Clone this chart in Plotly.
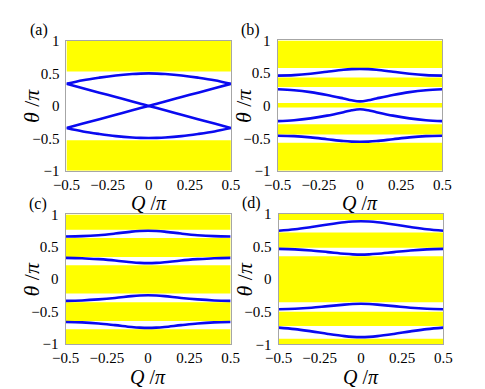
import plotly.graph_objects as go

# ---------------- data ----------------
Q = [-0.5, -0.4, -0.3, -0.2, -0.1, -0.05, 0, 0.05, 0.1, 0.2, 0.3, 0.4, 0.5]

# panel (a)
a1 = [0.34, 0.395, 0.435, 0.468, 0.490, 0.497, 0.50, 0.497, 0.490, 0.468, 0.435, 0.395, 0.34]
a2 = [0.34, 0.272, 0.204, 0.136, 0.068, 0.034, 0.0, -0.034, -0.068, -0.136, -0.204, -0.272, -0.34]
a3 = [-0.34, -0.272, -0.204, -0.136, -0.068, -0.034, 0.0, 0.034, 0.068, 0.136, 0.204, 0.272, 0.34]
a4 = [-0.34, -0.393, -0.432, -0.465, -0.487, -0.493, -0.495, -0.493, -0.487, -0.465, -0.432, -0.393, -0.34]
a_lo = [0.53, -1.0]
a_hi = [1.0, -0.53]

# panel (b)
b1 = [0.461, 0.468, 0.488, 0.52, 0.55, 0.56, 0.563, 0.56, 0.55, 0.52, 0.488, 0.468, 0.461]
b2 = [0.252, 0.237, 0.207, 0.163, 0.11, 0.082, 0.066, 0.082, 0.11, 0.163, 0.207, 0.237, 0.252]
b3 = [-0.238, -0.224, -0.195, -0.153, -0.1, -0.071, -0.056, -0.071, -0.1, -0.153, -0.195, -0.224, -0.238]
b4 = [-0.461, -0.468, -0.487, -0.515, -0.543, -0.551, -0.553, -0.551, -0.543, -0.515, -0.487, -0.468, -0.461]
b_lo = [0.578, 0.286, -0.03, -0.442, -1.0]
b_hi = [1.0, 0.432, 0.04, -0.286, -0.568]

# panel (c)
c1 = [0.66, 0.665, 0.68, 0.705, 0.735, 0.744, 0.748, 0.744, 0.735, 0.705, 0.68, 0.665, 0.66]
c2 = [0.33, 0.325, 0.31, 0.29, 0.262, 0.252, 0.248, 0.252, 0.262, 0.29, 0.31, 0.325, 0.33]
c3 = [-0.335, -0.328, -0.312, -0.29, -0.262, -0.252, -0.248, -0.252, -0.262, -0.29, -0.312, -0.328, -0.335]
c4 = [-0.66, -0.667, -0.684, -0.71, -0.738, -0.748, -0.752, -0.748, -0.738, -0.71, -0.684, -0.667, -0.66]
c_lo = [0.765, 0.345, -0.222, -0.646, -1.0]
c_hi = [1.0, 0.636, 0.214, -0.354, -0.772]

# panel (d)
d1 = [0.742, 0.765, 0.80, 0.839, 0.873, 0.884, 0.888, 0.884, 0.873, 0.839, 0.80, 0.765, 0.742]
d2 = [0.465, 0.458, 0.44, 0.415, 0.39, 0.381, 0.377, 0.381, 0.39, 0.415, 0.44, 0.458, 0.465]
d3 = [-0.46, -0.453, -0.437, -0.413, -0.39, -0.381, -0.377, -0.381, -0.39, -0.413, -0.437, -0.453, -0.46]
d4 = [-0.742, -0.765, -0.80, -0.839, -0.873, -0.884, -0.888, -0.884, -0.873, -0.839, -0.80, -0.765, -0.742]
d_lo = [0.907, 0.484, -0.353, -0.718, -1.0]
d_hi = [1.0, 0.718, 0.353, -0.499, -0.912]

x_tickvals = [-0.5, -0.25, 0, 0.25, 0.5]
x_ticktext = ["\u22120.5", "\u22120.25", "0", "0.25", "0.5"]
y_tickvals = [-1, -0.5, 0, 0.5, 1]
y_ticktext = ["\u22121", "\u22120.5", "0", "0.5", "1"]
panel_labels = ["(a)", "(b)", "(c)", "(d)"]

# ---------------- layout geometry ----------------
W, H = 485, 389
panels = [
    dict(curves=[a1, a2, a3, a4], lo=a_lo, hi=a_hi, box=(46.7, 219.3, 26, 161.5)),
    dict(curves=[b1, b2, b3, b4], lo=b_lo, hi=b_hi, box=(268.3, 441.3, 25.5, 161.5)),
    dict(curves=[c1, c2, c3, c4], lo=c_lo, hi=c_hi, box=(45.7, 219, 207, 342)),
    dict(curves=[d1, d2, d3, d4], lo=d_lo, hi=d_hi, box=(269.3, 442.3, 206.5, 342.5)),
]

BLUE = "#0a0af0"
YELLOW = "#ffff00"
FRAME = "#a6a6a6"
SERIF = "Liberation Serif, Times New Roman, serif"

fig = go.Figure()
layout = dict(
    width=W, height=H, margin=dict(l=0, r=0, t=0, b=0),
    paper_bgcolor="white", plot_bgcolor="white", showlegend=False,
    font=dict(family=SERIF, size=15, color="black"),
)
shapes = []
annotations = []

for i, p in enumerate(panels):
    n = "" if i == 0 else str(i + 1)
    xa, ya = "x" + n, "y" + n
    x0, x1, y0, y1 = p["box"]
    layout["xaxis" + n] = dict(
        domain=[x0 / W, x1 / W], range=[-0.5, 0.5], anchor=ya,
        showgrid=False, zeroline=False, showline=True, mirror=True,
        linecolor=FRAME, linewidth=1, ticks="", tickvals=x_tickvals,
        ticktext=x_ticktext, tickfont=dict(family=SERIF, size=15),
    )
    layout["yaxis" + n] = dict(
        domain=[1 - y1 / H, 1 - y0 / H], range=[-1, 1], anchor=xa,
        showgrid=False, zeroline=False, showline=True, mirror=True,
        linecolor=FRAME, linewidth=1, ticks="", tickvals=y_tickvals,
        ticktext=y_ticktext, tickfont=dict(family=SERIF, size=15),
        ticklabelstandoff=3,
    )
    for lo, hi in zip(p["lo"], p["hi"]):
        shapes.append(dict(type="rect", xref=xa, yref=ya, x0=-0.5, x1=0.5,
                           y0=lo, y1=hi, fillcolor=YELLOW, line=dict(width=0),
                           layer="below"))
    for c in p["curves"]:
        fig.add_trace(go.Scatter(x=Q, y=c, mode="lines", xaxis=xa, yaxis=ya,
                                 line=dict(color=BLUE, width=2.6, shape="spline",
                                           smoothing=1.0)))
    cx = (x0 + x1) / 2
    cy = (y0 + y1) / 2
    # x-axis title
    annotations.append(dict(xref="paper", yref="paper", x=cx / W,
                            y=1 - (y1 + 34) / H, xanchor="center", yanchor="middle",
                            text="<i>Q</i> /<i>\u03c0</i>", showarrow=False,
                            font=dict(family=SERIF, size=20)))
    # y-axis title
    annotations.append(dict(xref="paper", yref="paper", x=(x0 - 36) / W,
                            y=1 - cy / H, xanchor="center", yanchor="middle",
                            text="<i>\u03b8</i> /<i>\u03c0</i>", textangle=-90,
                            showarrow=False, font=dict(family=SERIF, size=22)))
    # panel label
    annotations.append(dict(xref="paper", yref="paper", x=(x0 - 40.5) / W,
                            y=1 - (y0 - 11) / H, xanchor="left", yanchor="middle",
                            text=panel_labels[i], showarrow=False,
                            font=dict(family=SERIF, size=16)))

layout["shapes"] = shapes
layout["annotations"] = annotations
fig.update_layout(**layout)
fig.write_html("out.html")
